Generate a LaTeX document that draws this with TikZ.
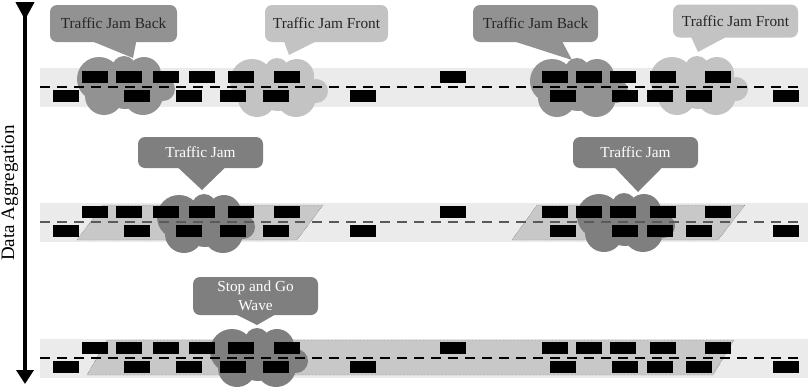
\documentclass[tikz,border=0pt]{standalone}
\usepackage{fontspec}
\setmainfont{Liberation Serif}
\usetikzlibrary{arrows.meta}

\definecolor{roadgray}{HTML}{EBEBEB}
\definecolor{jamzone}{HTML}{C8C8C8}
\definecolor{jamback}{HTML}{929292}
\definecolor{jamfront}{HTML}{C3C3C3}
\definecolor{jamdark}{HTML}{7F7F7F}

% cloud of circles, #1,#2 = top left corner
\newcommand{\jamcloud}[3]{%
  \begin{scope}[shift={(#1,#2)}]
    \fill[#3] (22,24) circle (22pt) (27,41) circle (19pt) (66,40) circle (20pt)
      (47,13) circle (12pt) (67,19) circle (17pt) (86,34) circle (12pt)
      (48,32) circle (22pt);
  \end{scope}}

\begin{document}
\begin{tikzpicture}[x=1pt,y=-1pt,
    bubble/.style={rounded corners=7pt,inner sep=0pt,align=center,
      font=\fontsize{15.3}{19}\selectfont},
    lane/.style={dash pattern=on 10pt off 7pt,line width=1.2pt}]
  \useasboundingbox (0,0) rectangle (808,386);
  %\draw[very thin,lightgray] (0,0) grid[step=50] (808,386);

  % aggregation axis
  \coordinate (aggtop) at (25,2);
  \coordinate (aggbot) at (25,384);
  \draw[line width=4pt,{Triangle[reversed,width=18pt,length=18pt]}-{Triangle[width=17pt,length=14pt]}]
    (aggtop) -- (aggbot);
  \node[rotate=90,font=\fontsize{19}{22}\selectfont] (agg) at (10,193) {Data Aggregation};

  % roads
  \foreach \ry in {0,135,271}
    \fill[roadgray] (40,68+\ry) rectangle (808,107+\ry);

  % aggregated jam areas
  \filldraw[fill=jamzone,draw=black!70,densely dotted] (103,205) -- (323,205) -- (297,240) -- (77,240) -- cycle;
  \filldraw[fill=jamzone,draw=black!70,densely dotted] (537,205) -- (745,205) -- (718,240) -- (512,240) -- cycle;
  \filldraw[fill=jamzone,draw=black!70,densely dotted] (107,340) -- (734,340) -- (713,375) -- (87,375) -- cycle;

  % clouds
  \jamcloud{77}{55}{jamback}
  \jamcloud{230}{57}{jamfront}
  \jamcloud{530}{57}{jamback}
  \jamcloud{650}{55}{jamfront}
  \jamcloud{157}{193}{jamdark}
  \jamcloud{577}{192}{jamdark}
  \jamcloud{210}{327}{jamdark}

  % lanes and cars
  \foreach \ry/\dc in {0/black,135/black!65,271/black}{
    \draw[lane,\dc] (40,87+\ry) -- (800,87+\ry);
    \foreach \cx in {82,116,153,189,228,274,440,542,576,610,650,705}
      \fill (\cx,71+\ry) rectangle ++(26,12);
    \foreach \cx in {53,124,176,220,263,350,550,612,647,686,773}
      \fill (\cx,90+\ry) rectangle ++(26,12);
  }

  % bubbles
  \node[bubble,fill=jamback,text=black!85,minimum width=127pt,minimum height=37pt] (bk1) at (113.5,23.5) {Traffic Jam Back};
  \fill[jamback] ([xshift=-24pt,yshift=2pt]bk1.south) -- ([xshift=23pt,yshift=2pt]bk1.south) -- (133,58) -- cycle;
  \node[bubble,fill=jamfront,text=black!85,minimum width=123pt,minimum height=37pt] (fr1) at (326.5,23.5) {Traffic Jam Front};
  \fill[jamfront] ([xshift=-43pt,yshift=2pt]fr1.south) -- ([xshift=-8pt,yshift=2pt]fr1.south) -- (289,55) -- cycle;
  \node[bubble,fill=jamback,text=black!85,minimum width=125pt,minimum height=37pt] (bk2) at (535.5,23.5) {Traffic Jam Back};
  \fill[jamback] ([xshift=-25pt,yshift=2pt]bk2.south) -- ([xshift=26pt,yshift=2pt]bk2.south) -- (572,60) -- cycle;
  \node[bubble,fill=jamfront,text=black!85,minimum width=125pt,minimum height=33pt] (fr2) at (735.5,21) {Traffic Jam Front};
  \fill[jamfront] ([xshift=-45pt,yshift=2pt]fr2.south) -- ([xshift=-7pt,yshift=2pt]fr2.south) -- (698,52) -- cycle;

  \node[bubble,fill=jamdark,text=white,minimum width=125pt,minimum height=31pt] (tj1) at (200.5,152.5) {Traffic Jam};
  \fill[jamdark] ([xshift=-24pt,yshift=2pt]tj1.south) -- ([xshift=26pt,yshift=2pt]tj1.south) -- (202,190) -- cycle;
  \node[bubble,fill=jamdark,text=white,minimum width=125pt,minimum height=31pt] (tj2) at (635.5,152.5) {Traffic Jam};
  \fill[jamdark] ([xshift=-22pt,yshift=2pt]tj2.south) -- ([xshift=28pt,yshift=2pt]tj2.south) -- (638,192) -- cycle;

  \node[bubble,fill=jamdark,text=white,minimum width=125pt,minimum height=38pt] (sg) at (255.5,296) {Stop and Go\\Wave};
  \fill[jamdark] ([xshift=-22pt,yshift=2pt]sg.south) -- ([xshift=22pt,yshift=2pt]sg.south) -- (257,325) -- cycle;
\end{tikzpicture}
\end{document}
